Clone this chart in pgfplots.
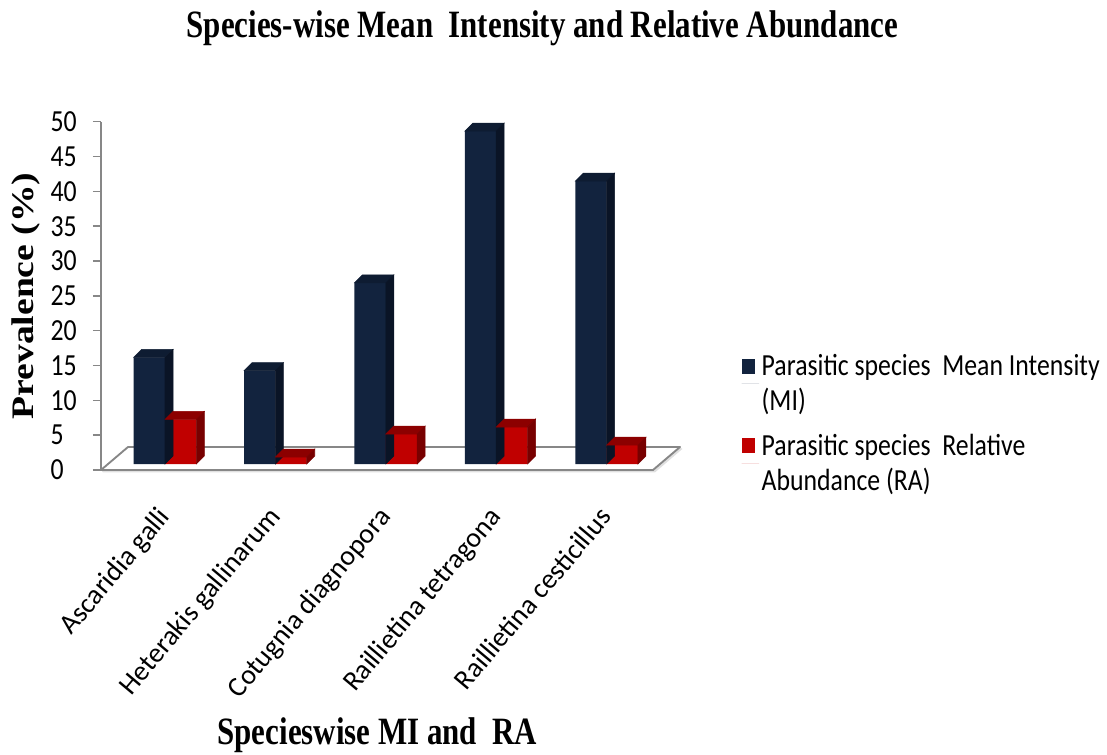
\documentclass[border=0pt]{standalone}
\usepackage{pgfplots}
\usepackage{pgfplotstable}
\pgfplotsset{compat=1.18}
\usepackage{fontspec}
\setmainfont{Carlito}
\newfontfamily\calib[FakeStretch=0.84]{Carlito}
\newfontfamily\calibrot{Carlito}
\newfontfamily\tnr[FakeStretch=0.8]{Liberation Serif}
\newfontfamily\tnrv[FakeStretch=1.2]{Liberation Serif}
\definecolor{navyF}{HTML}{12233E}
\definecolor{navyT}{HTML}{0E1C32}
\definecolor{navyS}{HTML}{0A1426}
\definecolor{redF}{HTML}{C00000}
\definecolor{redT}{HTML}{8C0000}
\definecolor{redS}{HTML}{780000}
\definecolor{axgray}{HTML}{878787}
\pgfdeclareplotmark{nothing}{}

\pgfplotstableread{
x mi ra
0 15.3 6.4
1 13.4 1.0
2 26.0 4.3
3 47.8 5.3
4 40.6 2.7
}\datatable

\newcommand\bw{23.5}
\newcommand\ddx{6}
\newcommand\ddy{6}
\newcommand\yu{5.2245}

\begin{document}
\begin{tikzpicture}
\useasboundingbox (-75.75pt,-213pt) rectangle (754.5pt,352.5pt);
% floor (front plane)
\fill[black!12] (1.5pt,-1.8pt) -- (415.5pt,-1.8pt) -- (436pt,15.75pt) -- (434.25pt,17.25pt) -- (414pt,0pt) -- (0pt,0pt) -- cycle;
\draw[axgray, line width=1.4pt, fill=white, line join=round] (0pt,0pt) -- (414pt,0pt) -- (434.25pt,17.25pt) -- (20.25pt,17.25pt) -- cycle;
\begin{axis}[
  scale only axis, width=414pt, height=261.225pt,
  at={(0pt,0pt)}, anchor=south west,
  xmin=-0.5, xmax=4.5, ymin=0, ymax=50,
  axis y line*=left, axis x line*=bottom,
  x axis line style={draw=none},
  y axis line style={axgray, line width=1.1pt},
  /pgf/number format/assume math mode=true,
  xtick={0,1,2,3,4},
  xticklabels={Ascaridia galli, Heterakis gallinarum, Cotugnia diagnopora, Raillietina tetragona, Raillietina cesticillus},
  xtick style={draw=none},
  xticklabel style={xshift=0pt, yshift=-20pt, rotate=50, anchor=north east, inner sep=0pt,
     font=\calibrot\fontsize{21}{21}\selectfont},
  ytick={0,5,...,50},
  tick align=outside, major tick length=6pt,
  ytick style={axgray, line width=1.1pt},
  yticklabel style={anchor=west, inner sep=0pt, xshift=-32pt,
     font=\calib\fontsize{23}{23}\selectfont},
  title={Species-wise Mean\ \ Intensity and Relative Abundance},
  title style={at={(rel axis cs:0.7998,1.2202)}, anchor=base,
     font=\tnr\bfseries\fontsize{29}{29}\selectfont},
  xlabel={Specieswise MI and\ \ RA},
  xlabel style={at={(rel axis cs:0.5007,-0.7882)}, anchor=base, text depth=0pt,
     font=\tnr\bfseries\fontsize{29}{29}\selectfont},
  ylabel={Prevalence (\%)},
  ylabel style={at={(rel axis cs:-0.1214,0.4996)}, anchor=base, rotate=0,
     font=\tnrv\bfseries\fontsize{23.5}{23.5}\selectfont},
]
\end{axis}
% bar plane
\begin{axis}[
  scale only axis, width=414pt, height=261.225pt,
  at={(6.6pt,4.5pt)}, anchor=south west,
  xmin=-0.5, xmax=4.5, ymin=0, ymax=50,
  hide axis, clip=false,
  legend style={draw=none, fill=none, at={(1.137,0.33)}, anchor=north west,
     font=\calib\fontsize{23}{26.25}\selectfont,
     cells={align=left, anchor=west}, row sep=12pt},
  legend cell align=left,
]
\addplot[ybar, bar width=\bw pt, bar shift=-11.75pt, fill=navyF, draw=none,
  legend image code/.code={\fill[navyF] (0pt,7.4pt) rectangle (9.75pt,18.9pt); \path (0pt,0pt) -- (13pt,0pt);}]
  table[x=x,y=mi]{\datatable};
\addlegendentry{Parasitic species\ \ Mean Intensity\\(MI)}
\addplot[forget plot, scatter, only marks, mark=nothing,
  visualization depends on={rawy \as \rawy},
  scatter/@pre marker code/.code={%
    \pgfmathsetmacro\h{\rawy*\yu}%
    \fill[navyT] (-\bw pt,0pt) -- ({-\bw pt+\ddx pt},\ddy pt) -- (\ddx pt,\ddy pt) -- (0pt,0pt) -- cycle;
    \fill[navyS] (0pt,0pt) -- (\ddx pt,\ddy pt) -- ({\ddx pt},{\ddy pt-\h pt}) -- ({0pt},{-\h pt}) -- cycle;
  },
  scatter/@post marker code/.code={}]
  table[x=x,y=mi]{\datatable};
\addplot[ybar, bar width=\bw pt, bar shift=11.75pt, fill=redF, draw=none,
  legend image code/.code={\fill[redF] (0pt,7.4pt) rectangle (9.75pt,18.9pt); \path (0pt,0pt) -- (13pt,0pt);}]
  table[x=x,y=ra]{\datatable};
\addlegendentry{Parasitic species\ \ Relative\\Abundance (RA)}
\addplot[forget plot, scatter, only marks, mark=nothing,
  visualization depends on={rawy \as \rawy},
  scatter/@pre marker code/.code={%
    \pgfmathsetmacro\h{\rawy*\yu}%
    \fill[redT] (0pt,0pt) -- (\ddx pt,\ddy pt) -- ({\bw pt+\ddx pt},\ddy pt) -- (\bw pt,0pt) -- cycle;
    \fill[redS] (\bw pt,0pt) -- ({\bw pt+\ddx pt},\ddy pt) -- ({\bw pt+\ddx pt},{\ddy pt-\h pt}) -- ({\bw pt},{-\h pt}) -- cycle;
  },
  scatter/@post marker code/.code={}]
  table[x=x,y=ra]{\datatable};
\end{axis}
\end{tikzpicture}
\end{document}
